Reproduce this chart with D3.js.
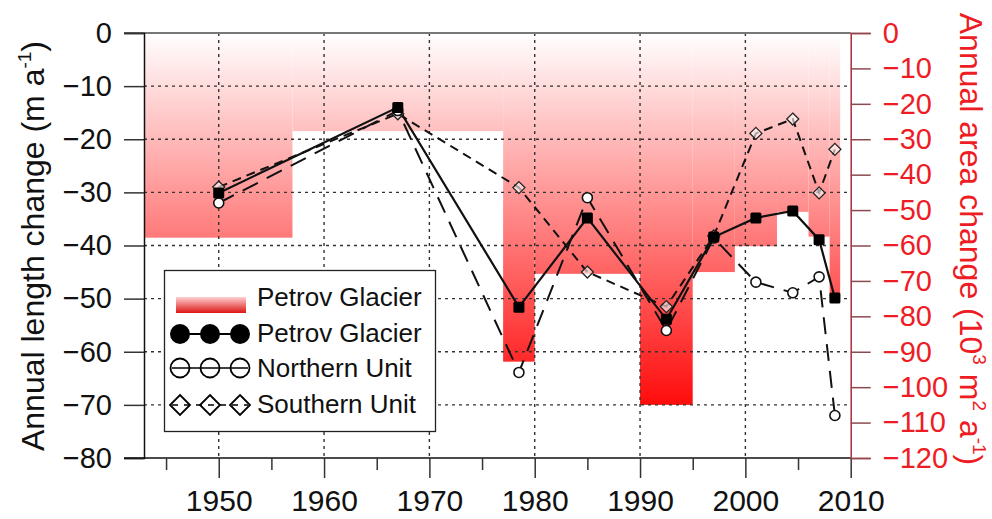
<!DOCTYPE html>
<html><head><meta charset="utf-8">
<script src="https://cdn.jsdelivr.net/npm/d3@7"></script>
<style>
html,body{margin:0;padding:0;background:#fff;}
svg{display:block;font-family:"Liberation Sans",Arial,sans-serif;}
</style></head>
<body>
<script>
// ---- data ----
const years = [1950, 1967, 1978.5, 1985, 1992.5, 1997, 2001, 2004.5, 2007, 2008.5];
const petrov = [-30.1, -14.0, -51.6, -34.8, -53.9, -38.4, -34.8, -33.5, -38.9, -49.9];
const northern = [-32.0, -14.6, -63.9, -31.0, -56.0, -38.6, -46.9, -48.9, -45.9, -72.0];
const southern = [-29.0, -15.2, -29.1, -45.0, -51.5, -38.2, -18.9, -16.2, -30.1, -21.9];

const areaStart = [1943, 1957, 1977, 1980, 1990, 1995, 1999, 2003, 2006, 2008];
const areaEnd   = [1957, 1977, 1980, 1990, 1995, 1999, 2003, 2006, 2008, 2009];
const areaChange = [-57.8, -27.7, -92.8, -68.0, -105.0, -67.5, -60.2, -50.5, -57.5, -75.0];

const xTicks = [1950, 1960, 1970, 1980, 1990, 2000, 2010];
const xMinorTicks = [1945, 1955, 1965, 1975, 1985, 1995, 2005];
const yLeftTicks = [0, -10, -20, -30, -40, -50, -60, -70, -80];
const yRightTicks = [0, -10, -20, -30, -40, -50, -60, -70, -80, -90, -100, -110, -120];

const legendLabels = ["Petrov Glacier", "Petrov Glacier", "Northern Unit", "Southern Unit"];

// ---- layout ----
const W = 992, H = 519;
const L = 144, R = 850.7, T = 33, B = 458;
const x = d3.scaleLinear().domain([1943, 2010]).range([145, R]);
const y = d3.scaleLinear().domain([-80, 0]).range([B, T]);
const yR = d3.scaleLinear().domain([-120, 0]).range([B, T]);

const svg = d3.select("body").append("svg").attr("width", W).attr("height", H);
const defs = svg.append("defs");
const g1 = defs.append("linearGradient").attr("id", "areaGrad")
  .attr("gradientUnits", "userSpaceOnUse")
  .attr("x1", 0).attr("x2", 0).attr("y1", yR(0)).attr("y2", yR(-105));
g1.append("stop").attr("offset", 0).attr("stop-color", "#ffffff");
g1.append("stop").attr("offset", 1).attr("stop-color", "#ff0c0c");

const g2 = defs.append("linearGradient").attr("id", "legGrad")
  .attr("x1", 0).attr("x2", 0).attr("y1", 0).attr("y2", 1);
g2.append("stop").attr("offset", 0).attr("stop-color", "#ffd0d0");
g2.append("stop").attr("offset", 1).attr("stop-color", "#dd1515");

// ---- area bars ----
const areaData = areaStart.map((s, i) => ({s, e: areaEnd[i], v: areaChange[i]}));
svg.append("g").selectAll("rect").data(areaData).join("rect")
  .attr("x", d => Math.max(L, x(d.s)))
  .attr("width", d => x(d.e) - Math.max(L, x(d.s)))
  .attr("y", yR(0))
  .attr("height", d => yR(d.v) - yR(0))
  .attr("fill", "url(#areaGrad)");

// ---- grid ----
const grid = svg.append("g").attr("stroke", "#333").attr("stroke-width", 1.4)
  .attr("stroke-dasharray", "3,4");
grid.selectAll("line.h").data(yLeftTicks.filter(v => v < 0 && v > -80)).join("line")
  .attr("x1", L).attr("x2", R).attr("y1", d => y(d)).attr("y2", d => y(d));
grid.selectAll("line.v").data(xTicks.filter(v => v < 2010)).join("line")
  .attr("class", "v")
  .attr("x1", d => x(d)).attr("x2", d => x(d)).attr("y1", T).attr("y2", B);

// ---- axes ----
svg.append("line").attr("x1", 124).attr("x2", R).attr("y1", T).attr("y2", T)
  .attr("stroke", "#777").attr("stroke-width", 2);
const leftAxis = d3.axisLeft(y).tickValues(yLeftTicks).tickSize(20).tickPadding(12)
  .tickFormat(d3.format("d"));
const la = svg.append("g").attr("transform", `translate(${L},0)`).call(leftAxis);
la.select(".domain").attr("stroke", "#111").attr("stroke-width", 1.5);
la.selectAll(".tick line").attr("stroke", "#333").attr("stroke-width", 1.5);
la.selectAll(".tick text").attr("font-size", 29).attr("fill", "#111")
  .attr("font-family", "Liberation Sans, Arial, sans-serif");

svg.append("line").attr("x1", 124).attr("x2", R).attr("y1", B).attr("y2", B)
  .attr("stroke", "#111").attr("stroke-width", 1.5);
const bottomAxis = d3.axisBottom(x).tickValues(xTicks).tickSize(20).tickPadding(12)
  .tickFormat(d3.format("d"));
const ba = svg.append("g").attr("transform", `translate(0,${B})`).call(bottomAxis);
ba.select(".domain").remove();
ba.selectAll(".tick line").attr("stroke", "#333").attr("stroke-width", 1.5);
ba.selectAll(".tick text").attr("font-size", 30).attr("fill", "#111")
  .attr("font-family", "Liberation Sans, Arial, sans-serif");
const minorAxis = d3.axisBottom(x).tickValues(xMinorTicks).tickSize(12).tickFormat("");
const ma = svg.append("g").attr("transform", `translate(0,${B})`).call(minorAxis);
ma.select(".domain").remove();
ma.selectAll(".tick line").attr("stroke", "#333").attr("stroke-width", 1.5);

const rightAxis = d3.axisRight(yR).tickValues(yRightTicks).tickSize(20).tickPadding(12)
  .tickFormat(d3.format("d"));
const ra = svg.append("g").attr("transform", `translate(${R},0)`).call(rightAxis);
ra.select(".domain").attr("stroke", "#b02a3a").attr("stroke-width", 1.5);
ra.selectAll(".tick line").attr("stroke", "#8a4a50").attr("stroke-width", 1.5);
ra.selectAll(".tick text").attr("font-size", 29).attr("fill", "#ee1c24")
  .attr("font-family", "Liberation Sans, Arial, sans-serif");

// axis titles
const lt = svg.append("text").attr("transform", `translate(44,246) rotate(-90)`)
  .attr("text-anchor", "middle").attr("font-size", 32).attr("fill", "#111");
lt.append("tspan").text("Annual length change (m a");
lt.append("tspan").attr("font-size", 19).attr("dy", -13).text("-1");
lt.append("tspan").attr("dy", 13).text(")");

const rt = svg.append("text").attr("transform", `translate(960,239) rotate(90)`)
  .attr("text-anchor", "middle").attr("font-size", 32).attr("fill", "#ee1c24");
rt.append("tspan").text("Annual area change (10");
rt.append("tspan").attr("font-size", 19).attr("dy", -13).text("3");
rt.append("tspan").attr("dy", 13).text(" m");
rt.append("tspan").attr("font-size", 19).attr("dy", -13).text("2");
rt.append("tspan").attr("dy", 13).text(" a");
rt.append("tspan").attr("font-size", 19).attr("dy", -13).text("-1");
rt.append("tspan").attr("dy", 13).text(")");

// ---- series ----
const line = d3.line().x(d => x(d[0])).y(d => y(d[1]));
const sData = years.map((yr, i) => [yr, southern[i]]);
const nData = years.map((yr, i) => [yr, northern[i]]);
const pData = years.map((yr, i) => [yr, petrov[i]]);

svg.append("path").datum(sData).attr("d", line).attr("fill", "none")
  .attr("stroke", "#111").attr("stroke-width", 2).attr("stroke-dasharray", "9,6");
svg.append("path").datum(nData).attr("d", line).attr("fill", "none")
  .attr("stroke", "#111").attr("stroke-width", 2).attr("stroke-dasharray", "17,10");
svg.append("path").datum(pData).attr("d", line).attr("fill", "none")
  .attr("stroke", "#111").attr("stroke-width", 2.2);

const diamond = s => `M0,${-s}L${s},0L0,${s}L${-s},0Z`;
svg.append("g").selectAll("path").data(sData).join("path")
  .attr("transform", d => `translate(${x(d[0])},${y(d[1])})`)
  .attr("d", diamond(6)).attr("fill", "#fff").attr("fill-opacity", 0.6)
  .attr("stroke", "#222").attr("stroke-width", 1.3);
svg.append("g").selectAll("circle").data(nData).join("circle")
  .attr("cx", d => x(d[0])).attr("cy", d => y(d[1])).attr("r", 5)
  .attr("fill", "#fff").attr("stroke", "#111").attr("stroke-width", 1.6);
svg.append("g").selectAll("rect").data(pData).join("rect")
  .attr("x", d => x(d[0]) - 5.5).attr("y", d => y(d[1]) - 5.5)
  .attr("width", 11).attr("height", 11).attr("rx", 1.5)
  .attr("fill", "#000");

// ---- legend ----
const leg = svg.append("g");
leg.append("rect").attr("x", 164.5).attr("y", 270.5).attr("width", 271).attr("height", 161)
  .attr("fill", "#fff").attr("stroke", "#222").attr("stroke-width", 1.3);
leg.append("rect").attr("x", 176).attr("y", 297).attr("width", 70).attr("height", 16)
  .attr("fill", "url(#legGrad)");
const rowsY = [306, 341.5, 376.5, 413];
const markY = [305, 334, 368, 405];
leg.selectAll("text").data(legendLabels).join("text")
  .attr("x", 257).attr("y", (d, i) => rowsY[i]).attr("font-size", 26).attr("fill", "#111")
  .text(d => d);
const mx = [180, 210, 240];
leg.append("line").attr("x1", 172).attr("x2", 248).attr("y1", markY[1]).attr("y2", markY[1])
  .attr("stroke", "#000").attr("stroke-width", 2);
leg.selectAll("circle.p").data(mx).join("circle").attr("class", "p")
  .attr("cx", d => d).attr("cy", markY[1]).attr("r", 10).attr("fill", "#000");
leg.append("line").attr("x1", 172).attr("x2", 248).attr("y1", markY[2]).attr("y2", markY[2])
  .attr("stroke", "#000").attr("stroke-width", 1.6);
leg.selectAll("circle.n").data(mx).join("circle").attr("class", "n")
  .attr("cx", d => d).attr("cy", markY[2]).attr("r", 9.5).attr("fill", "none")
  .attr("stroke", "#000").attr("stroke-width", 1.8);
leg.append("line").attr("x1", 172).attr("x2", 248).attr("y1", markY[3]).attr("y2", markY[3])
  .attr("stroke", "#000").attr("stroke-width", 1.4).attr("stroke-dasharray", "6,6");
leg.selectAll("path.s").data(mx).join("path").attr("class", "s")
  .attr("transform", d => `translate(${d},${markY[3]})`)
  .attr("d", diamond(10)).attr("fill", "none").attr("stroke", "#000").attr("stroke-width", 1.8);
</script>
</body></html>
